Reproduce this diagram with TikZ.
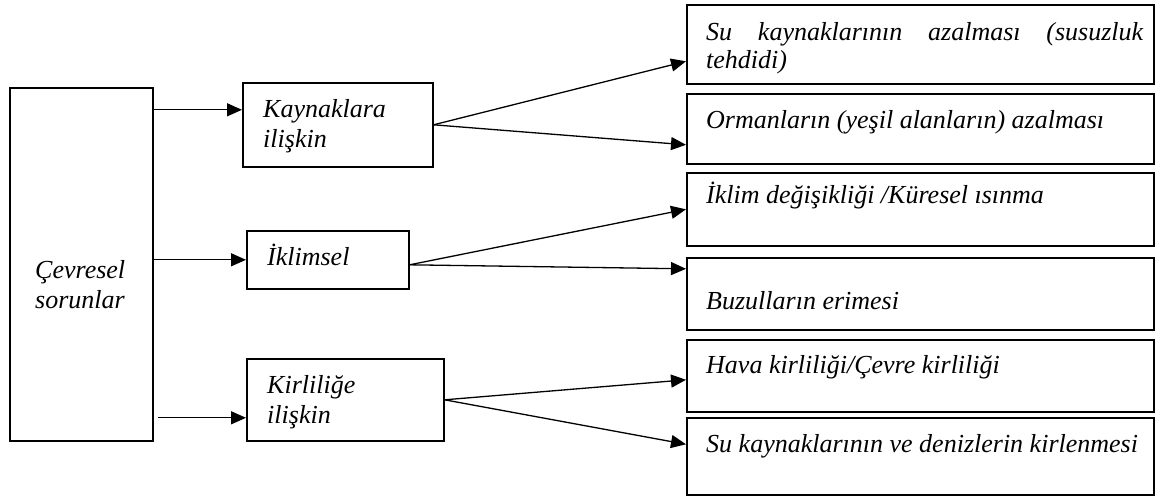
\documentclass[tikz,border=0pt]{standalone}
\usepackage{fontspec}
\setmainfont{Liberation Serif}
\usetikzlibrary{arrows.meta, positioning}

\begin{document}
\begin{tikzpicture}[x=1pt, y=-1pt,
                box/.style={rectangle, draw, line width=1.6pt, inner sep=0pt, anchor=north west},
                txt/.style={anchor=base west, inner sep=0pt, align=left, font=\fontsize{26}{30}\selectfont\itshape},
                link/.style={-{Triangle[length=15pt, width=13pt]}, line width=1.3pt}
            ]
                \useasboundingbox (0,0) rectangle (1158,496);

                % left and middle column
                \node[box, minimum width=143pt, minimum height=353pt] (cev) at (9, 87) {};
                \node[box, minimum width=190pt, minimum height=84pt] (kay) at (242, 82) {};
                \node[box, minimum width=162pt, minimum height=58pt] (ikl) at (246, 230) {};
                \node[box, minimum width=197pt, minimum height=82pt] (kir) at (246, 358) {};

                \node[txt] (cevt) at ([xshift=26pt, yshift=-221pt]cev.north west) {Çevresel\\sorunlar};
                \node[txt] (kayt) at ([xshift=21pt, yshift=-65pt]kay.north west) {Kaynaklara\\ilişkin};
                \node[txt] (iklt) at ([xshift=21pt, yshift=-35pt]ikl.north west) {İklimsel};
                \node[txt] (kirt) at ([xshift=21pt, yshift=-65pt]kir.north west) {Kirliliğe\\ilişkin};

                % right column
                \node[box, minimum width=467pt, minimum height=79pt] (r1) at (686, 4) {};
                \node[box, minimum width=467pt, minimum height=70pt] (r2) at (686, 93) {};
                \node[box, minimum width=467pt, minimum height=73pt] (r3) at (686, 172) {};
                \node[box, minimum width=467pt, minimum height=72pt] (r4) at (686, 257) {};
                \node[box, minimum width=467pt, minimum height=72pt] (r5) at (686, 339) {};
                \node[box, minimum width=467pt, minimum height=77pt] (r6) at (686, 417) {};

                \node[txt, font=\fontsize{26}{28}\selectfont\itshape] (r1t) at ([xshift=20pt, yshift=-64pt]r1.north west)
                    {\makebox[437pt][s]{Su kaynaklarının azalması (susuzluk}\\tehdidi)};
                \node[txt] (r2t) at ([xshift=20pt, yshift=-35pt]r2.north west) {Ormanların (yeşil alanların) azalması};
                \node[txt] (r3t) at ([xshift=20pt, yshift=-31pt]r3.north west) {İklim değişikliği /Küresel ısınma};
                \node[txt] (r4t) at ([xshift=20pt, yshift=-52pt]r4.north west) {Buzulların erimesi};
                \node[txt] (r5t) at ([xshift=20pt, yshift=-34pt]r5.north west) {Hava kirliliği/Çevre kirliliği};
                \node[txt] (r6t) at ([xshift=20pt, yshift=-35pt]r6.north west) {Su kaynaklarının ve denizlerin kirlenmesi};

                % arrow ends
                \coordinate (kay_in) at ([yshift=15pt]kay.west);
                \coordinate (kir_in) at ([yshift=-18pt]kir.west);

                % arrows
                \draw[link] (cev.east |- kay_in) -- (kay_in);
                \draw[link] (cev.east |- ikl.west) -- (ikl.west);
                \draw[link] ([xshift=4pt]cev.east |- kir_in) -- (kir_in);

                \draw[link] (kay.east) -- ([yshift=-17pt]r1.west);
                \draw[link] (kay.east) -- ([yshift=-16pt]r2.west);
                \draw[link] ([yshift=-5pt]ikl.east) -- (r3.west);
                \draw[link] ([yshift=-5pt]ikl.east) -- ([yshift=25pt]r4.west);
                \draw[link] (kir.east) -- ([yshift=-4pt]r5.west);
                \draw[link] (kir.east) -- ([yshift=12pt]r6.west);
            \end{tikzpicture}
\end{document}
